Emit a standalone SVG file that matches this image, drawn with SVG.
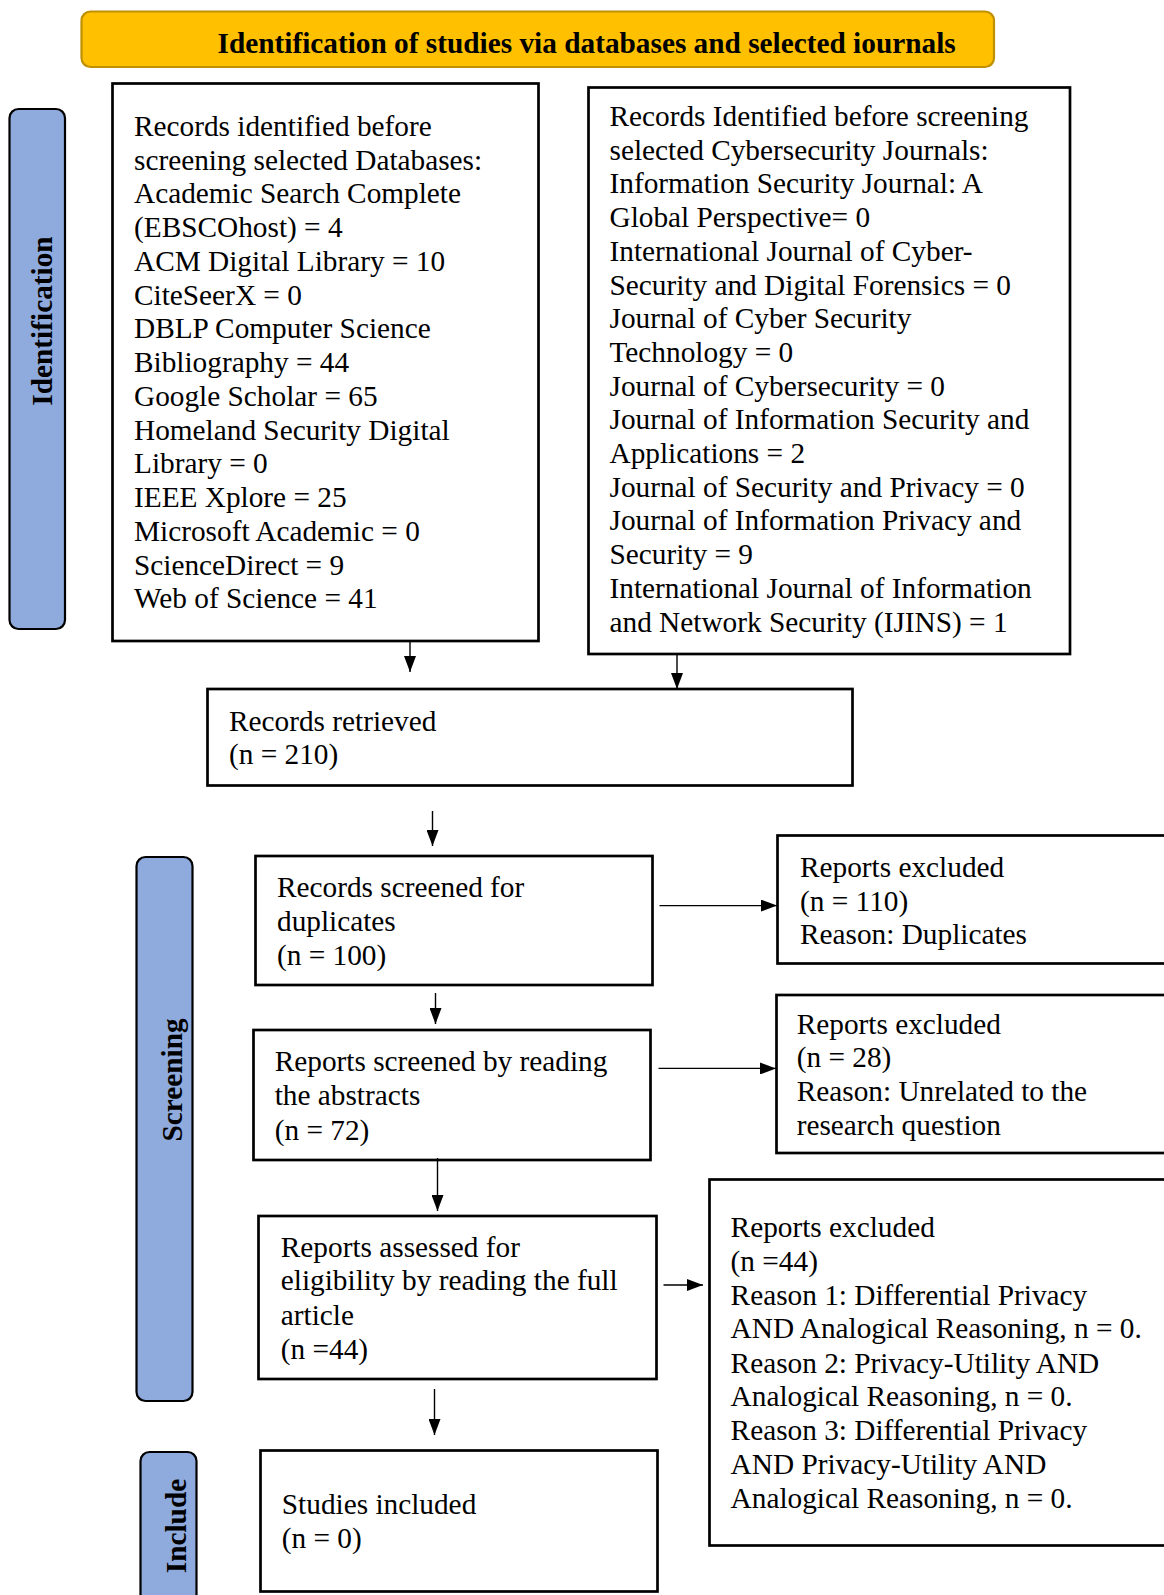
<svg xmlns="http://www.w3.org/2000/svg" width="1164" height="1595" viewBox="0 0 1164 1595">
<style>
  .box { fill: #ffffff; stroke: #000000; stroke-width: 2.7; }
  .lab { fill: #8FAADC; stroke: #000000; stroke-width: 2.2; }
  .t { font-family: "Liberation Serif", "Times New Roman", serif; font-size: 29.3px; fill: #000000; }
  .b { font-family: "Liberation Serif", "Times New Roman", serif; font-size: 29.3px; font-weight: bold; fill: #000000; text-anchor: middle; }
  .arr { stroke: #000000; stroke-width: 1.4; fill: none; marker-end: url(#ah); }
</style>
<defs>
  <marker id="ah" markerUnits="userSpaceOnUse" markerWidth="16" markerHeight="12" refX="16" refY="6" orient="auto">
    <path d="M0,0 L16,6 L0,12 z" fill="#000000"/>
  </marker>
</defs>
<rect width="1164" height="1595" fill="#ffffff"/>

<g id="title">
  <rect x="81.5" y="11.5" width="912.5" height="55.5" rx="9" ry="9" fill="#FFC000" stroke="#BF9000" stroke-width="2.2"/>
  <text class="b" x="586.6" y="53">Identification of studies via databases and selected iournals</text>
</g>

<g id="label-identification">
  <rect class="lab" x="9.5" y="109" width="55.5" height="520" rx="9" ry="9"/>
  <text class="b" transform="translate(52,321) rotate(-90)">Identification</text>
</g>

<g id="label-screening">
  <rect class="lab" x="136.5" y="857" width="56" height="544" rx="9" ry="9"/>
  <text class="b" transform="translate(182,1080) rotate(-90)">Screening</text>
</g>

<g id="label-include">
  <rect class="lab" x="140.5" y="1452" width="56" height="200" rx="9" ry="9"/>
  <text class="b" transform="translate(186,1526) rotate(-90)">Include</text>
</g>

<g id="databases">
  <rect class="box" x="112.5" y="83.5" width="426" height="557.5"/>
  <text class="t">
    <tspan x="134" y="135.7">Records identified before</tspan>
    <tspan x="134" y="169.5">screening selected Databases:</tspan>
    <tspan x="134" y="203.2">Academic Search Complete</tspan>
    <tspan x="134" y="237">(EBSCOhost) = 4</tspan>
    <tspan x="134" y="270.7">ACM Digital Library = 10</tspan>
    <tspan x="134" y="304.5">CiteSeerX = 0</tspan>
    <tspan x="134" y="338.2">DBLP Computer Science</tspan>
    <tspan x="134" y="372">Bibliography = 44</tspan>
    <tspan x="134" y="405.7">Google Scholar = 65</tspan>
    <tspan x="134" y="439.5">Homeland Security Digital</tspan>
    <tspan x="134" y="473.2">Library = 0</tspan>
    <tspan x="134" y="507">IEEE Xplore = 25</tspan>
    <tspan x="134" y="540.7">Microsoft Academic = 0</tspan>
    <tspan x="134" y="574.5">ScienceDirect = 9</tspan>
    <tspan x="134" y="608.2">Web of Science = 41</tspan>
  </text>
</g>

<g id="journals">
  <rect class="box" x="588.5" y="87.5" width="481.5" height="566.5"/>
  <text class="t">
    <tspan x="609.5" y="126">Records Identified before screening</tspan>
    <tspan x="609.5" y="159.7">selected Cybersecurity Journals:</tspan>
    <tspan x="609.5" y="193.4">Information Security Journal: A</tspan>
    <tspan x="609.5" y="227.1">Global Perspective= 0</tspan>
    <tspan x="609.5" y="260.8">International Journal of Cyber-</tspan>
    <tspan x="609.5" y="294.5">Security and Digital Forensics = 0</tspan>
    <tspan x="609.5" y="328.2">Journal of Cyber Security</tspan>
    <tspan x="609.5" y="361.9">Technology = 0</tspan>
    <tspan x="609.5" y="395.6">Journal of Cybersecurity = 0</tspan>
    <tspan x="609.5" y="429.3">Journal of Information Security and</tspan>
    <tspan x="609.5" y="463">Applications = 2</tspan>
    <tspan x="609.5" y="496.7">Journal of Security and Privacy = 0</tspan>
    <tspan x="609.5" y="530.4">Journal of Information Privacy and</tspan>
    <tspan x="609.5" y="564.1">Security = 9</tspan>
    <tspan x="609.5" y="597.8">International Journal of Information</tspan>
    <tspan x="609.5" y="631.5">and Network Security (IJINS) = 1</tspan>
  </text>
</g>

<g id="retrieved">
  <rect class="box" x="207.5" y="689" width="645" height="96.5"/>
  <text class="t">
    <tspan x="229" y="730.5">Records retrieved</tspan>
    <tspan x="229" y="764">(n = 210)</tspan>
  </text>
</g>

<g id="screened-duplicates">
  <rect class="box" x="255.5" y="856" width="397" height="129"/>
  <text class="t">
    <tspan x="277" y="896.5">Records screened for</tspan>
    <tspan x="277" y="931">duplicates</tspan>
    <tspan x="277" y="964.6">(n = 100)</tspan>
  </text>
</g>

<g id="excluded-duplicates">
  <rect class="box" x="777.5" y="835.5" width="400" height="128"/>
  <text class="t">
    <tspan x="800" y="877">Reports excluded</tspan>
    <tspan x="800" y="910.7">(n = 110)</tspan>
    <tspan x="800" y="944">Reason: Duplicates</tspan>
  </text>
</g>

<g id="screened-abstracts">
  <rect class="box" x="253.5" y="1030" width="397" height="130"/>
  <text class="t">
    <tspan x="274.7" y="1071.4">Reports screened by reading</tspan>
    <tspan x="274.7" y="1105">the abstracts</tspan>
    <tspan x="274.7" y="1139.6">(n = 72)</tspan>
  </text>
</g>

<g id="excluded-abstracts">
  <rect class="box" x="776.5" y="995" width="400" height="158"/>
  <text class="t">
    <tspan x="796.7" y="1033.8">Reports excluded</tspan>
    <tspan x="796.7" y="1067.4">(n = 28)</tspan>
    <tspan x="796.7" y="1101">Reason: Unrelated to the</tspan>
    <tspan x="796.7" y="1134.5">research question</tspan>
  </text>
</g>

<g id="assessed">
  <rect class="box" x="258.5" y="1216" width="398" height="163"/>
  <text class="t">
    <tspan x="280.8" y="1256.6">Reports assessed for</tspan>
    <tspan x="280.8" y="1290.2">eligibility by reading the full</tspan>
    <tspan x="280.8" y="1324.8">article</tspan>
    <tspan x="280.8" y="1359.4">(n =44)</tspan>
  </text>
</g>

<g id="excluded-full">
  <rect class="box" x="709.5" y="1179.5" width="470" height="366"/>
  <text class="t">
    <tspan x="730.6" y="1237.3">Reports excluded</tspan>
    <tspan x="730.6" y="1270.9">(n =44)</tspan>
    <tspan x="730.6" y="1304.5">Reason 1: Differential Privacy</tspan>
    <tspan x="730.6" y="1338.1">AND Analogical Reasoning, n = 0.</tspan>
    <tspan x="730.6" y="1372.6">Reason 2: Privacy-Utility AND</tspan>
    <tspan x="730.6" y="1406.2">Analogical Reasoning, n = 0.</tspan>
    <tspan x="730.6" y="1439.8">Reason 3: Differential Privacy</tspan>
    <tspan x="730.6" y="1474.4">AND Privacy-Utility AND</tspan>
    <tspan x="730.6" y="1508">Analogical Reasoning, n = 0.</tspan>
  </text>
</g>

<g id="included">
  <rect class="box" x="260.5" y="1450.5" width="397" height="141"/>
  <text class="t">
    <tspan x="281.8" y="1514">Studies included</tspan>
    <tspan x="281.8" y="1547.6">(n = 0)</tspan>
  </text>
</g>

<g id="connectors">
  <line class="arr" x1="410" y1="641" x2="410" y2="672"/>
  <line class="arr" x1="677" y1="654" x2="677" y2="689"/>
  <line class="arr" x1="432.5" y1="811" x2="432.5" y2="846"/>
  <line class="arr" x1="659.5" y1="905.6" x2="777" y2="905.6"/>
  <line class="arr" x1="435.5" y1="993" x2="435.5" y2="1024"/>
  <line class="arr" x1="658.5" y1="1068.4" x2="776" y2="1068.4"/>
  <line class="arr" x1="437.5" y1="1158" x2="437.5" y2="1211"/>
  <line class="arr" x1="663.5" y1="1285" x2="703" y2="1285"/>
  <line class="arr" x1="434.5" y1="1389" x2="434.5" y2="1435"/>
</g>
</svg>
